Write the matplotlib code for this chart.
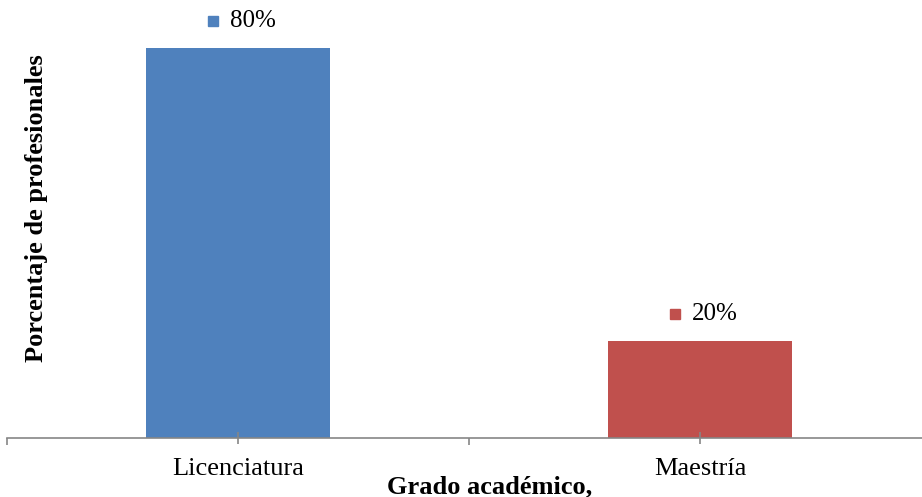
import matplotlib
matplotlib.use("Agg")
import matplotlib.pyplot as plt
import matplotlib.transforms as mtrans

categories = ["Licenciatura", "Maestría"]
values = [80, 20]
labels = ["80%", "20%"]
colors = ["#4F81BD", "#C0504D"]

plt.rcParams['font.family'] = ['Liberation Serif', 'DejaVu Serif']

fig = plt.figure(figsize=(9.22, 4.97), dpi=100)
ax = fig.add_axes([7/922, 59/497, 924/922, 438/497])

x = list(range(len(categories)))
ax.bar(x, values, width=0.4, color=colors)
ax.set_xlim(-0.5, 1.5)
ax.set_ylim(0, 89.85)

for xi, v, lab, c in zip(x, values, labels, colors):
    off = mtrans.offset_copy(ax.transData, fig=fig, x=-25, y=27, units="dots")
    ax.plot([xi], [v], marker="s", markersize=7.5, color=c, linestyle="none",
            transform=off, clip_on=False)
    ax.annotate(lab, xy=(xi, v), xytext=(-8/1.389, 27/1.389), textcoords="offset points",
                ha="left", va="center", fontsize=18, color="black")

for s in ["top", "right", "left"]:
    ax.spines[s].set_visible(False)
ax.spines["bottom"].set_color("#868686")
ax.spines["bottom"].set_linewidth(1.2)
ax.set_yticks([])
ax.set_xticks(x)
ax.set_xticklabels(categories, fontsize=19)
ax.set_xticks([-0.5, 0.5, 1.5], minor=True)
ax.tick_params(axis="x", which="major", direction="inout", length=9, width=1.2,
               color="#868686", pad=10)
ax.tick_params(axis="x", which="minor", direction="out", length=5, width=1.2,
               color="#868686")

fig.text(490/922, 1 - 487/497, "Grado académico,", ha="center", va="center",
         fontsize=19, fontweight="bold")
fig.text(36/922, 1 - 208/497, "Porcentaje de profesionales", ha="center", va="center",
         rotation=90, fontsize=19, fontweight="bold")

fig.savefig("out.png", dpi=100)
